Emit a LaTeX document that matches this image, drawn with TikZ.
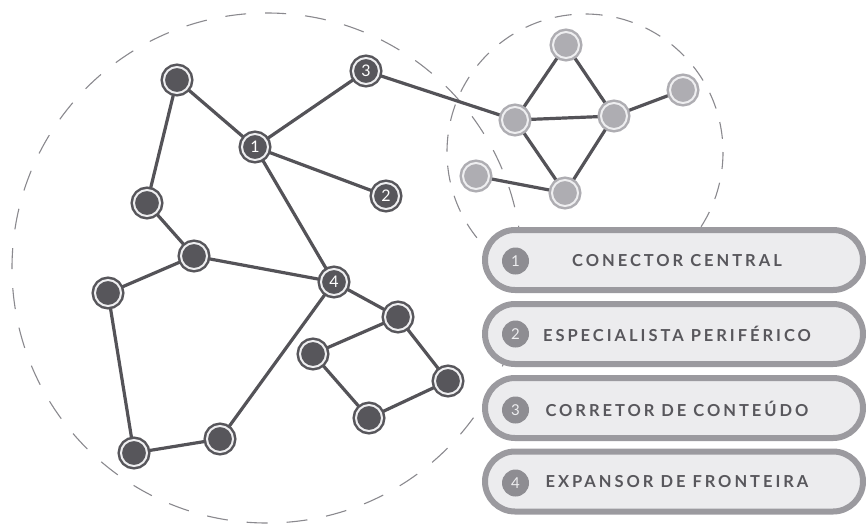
\documentclass[tikz,border=0pt]{standalone}
\usepackage{fontspec}
\setmainfont{Lato}
\newfontfamily\panelfont[LetterSpace=18, BoldFont={Lato Bold}]{Lato}
\definecolor{ndark}{HTML}{57565B}
\definecolor{nlight}{HTML}{AEADB2}
\definecolor{ringw}{HTML}{EEEEF0}
\definecolor{edgec}{HTML}{545358}
\definecolor{dashc}{HTML}{8A898E}
\definecolor{pborder}{HTML}{9B9A9F}
\definecolor{pfill}{HTML}{ECECEE}
\definecolor{ptext}{HTML}{58575C}
\definecolor{badge}{HTML}{8E8D92}
\pgfdeclarelayer{bg}
\pgfdeclarelayer{edges}
\pgfsetlayers{bg,edges,main}
\begin{document}
\begin{tikzpicture}[x=1pt,y=-1pt,
  dnode/.style={circle, minimum size=26pt, inner sep=0pt, fill=ndark, draw=ndark,
    line width=2.5pt, double=ringw, double distance=2pt, text=white,
    font=\fontsize{16}{16}\selectfont},
  lnode/.style={dnode, fill=nlight, draw=nlight},
  link/.style={draw=edgec, line width=3.2pt},
  dashring/.style={draw=dashc, line width=1.1pt},
  panel/.style={rectangle, rounded corners=30pt, minimum width=378pt, minimum height=60pt,
    draw=pborder, fill=pfill, line width=6pt},
  ptxt/.style={text=ptext, font=\panelfont\bfseries\fontsize{16.5}{17}\selectfont},
  pbadge/.style={circle, fill=badge, minimum size=27pt, inner sep=0pt, text=ringw,
    font=\fontsize{15}{15}\selectfont}
]
\useasboundingbox (0,0) rectangle (866,528);
% dashed regions
\begin{pgfonlayer}{bg}
  \draw[dashring, dash pattern=on 21pt off 19pt] (267,268) circle[radius=255];
  \draw[dashring, dash pattern=on 17pt off 14pt] (585,152) circle[radius=138];
\end{pgfonlayer}
% dark nodes
\node[dnode] (a) at (177,80) {};
\node[dnode] (n1) at (255,147) {1};
\node[dnode] (n3) at (366,71) {3};
\node[dnode] (n2) at (386,196) {2};
\node[dnode] (b) at (147,203) {};
\node[dnode] (c) at (194,256) {};
\node[dnode] (d) at (108,293) {};
\node[dnode] (n4) at (334,282) {4};
\node[dnode] (e) at (398,317) {};
\node[dnode] (f) at (313,354) {};
\node[dnode] (g) at (448,381) {};
\node[dnode] (h) at (369,418) {};
\node[dnode] (i) at (134,453) {};
\node[dnode] (j) at (220,439) {};
% light nodes
\node[lnode] (l1) at (566,45) {};
\node[lnode] (l2) at (515,120) {};
\node[lnode] (l3) at (614,116) {};
\node[lnode] (l4) at (683,90) {};
\node[lnode] (l5) at (476,176) {};
\node[lnode] (l6) at (565,193) {};
% edges
\begin{pgfonlayer}{edges}
  \draw[link] (a.center) -- (n1.center);
  \draw[link] (a.center) -- (b.center);
  \draw[link] (b.center) -- (c.center);
  \draw[link] (c.center) -- (d.center);
  \draw[link] (c.center) -- (n4.center);
  \draw[link] (n1.center) -- (n3.center);
  \draw[link] (n1.center) -- (n2.center);
  \draw[link] (n1.center) -- (n4.center);
  \draw[link] (n3.center) -- (l2.center);
  \draw[link] (d.center) -- (i.center);
  \draw[link] (i.center) -- (j.center);
  \draw[link] (j.center) -- (n4.center);
  \draw[link] (n4.center) -- (e.center);
  \draw[link] (e.center) -- (f.center);
  \draw[link] (e.center) -- (g.center);
  \draw[link] (f.center) -- (h.center);
  \draw[link] (h.center) -- (g.center);
  \draw[link] (l1.center) -- (l2.center);
  \draw[link] (l1.center) -- (l3.center);
  \draw[link] (l2.center) -- (l3.center);
  \draw[link] (l2.center) -- (l6.center);
  \draw[link] (l3.center) -- (l6.center);
  \draw[link] (l3.center) -- (l4.center);
  \draw[link] (l5.center) -- (l6.center);
\end{pgfonlayer}
% legend panels
\node[panel] (p1) at (674,260) {};
\node[panel] (p2) at (674,334) {};
\node[panel] (p3) at (674,408) {};
\node[panel] (p4) at (674,481.5) {};
\node[pbadge] (b1) at (515.5,261) {1};
\node[pbadge] (b2) at (515.5,334) {2};
\node[pbadge] (b3) at (515.5,410) {3};
\node[pbadge] (b4) at (515.5,483) {4};
\node[ptxt] (t1) at (677,261) {CONECTOR CENTRAL};
\node[ptxt] (t2) at (677,334) {ESPECIALISTA PERIFÉRICO};
\node[ptxt] (t3) at (677,409) {CORRETOR DE CONTEÚDO};
\node[ptxt] (t4) at (677,482) {EXPANSOR DE FRONTEIRA};
\end{tikzpicture}
\end{document}
